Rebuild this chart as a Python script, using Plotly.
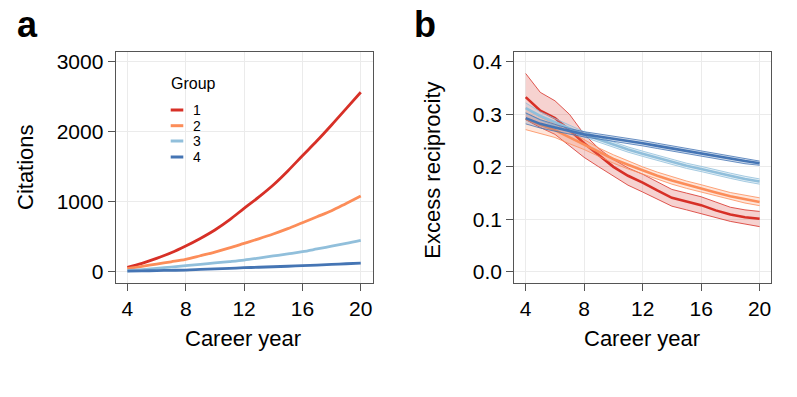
import plotly.graph_objects as go

W, H = 797, 397

years = list(range(4, 21))
groups = ['1', '2', '3', '4']
colors = ['#d73027', '#fc8d59', '#91bfdb', '#4575b4']
fills = ['rgba(215,48,39,0.22)', 'rgba(252,141,89,0.22)',
         'rgba(145,191,219,0.22)', 'rgba(69,117,180,0.22)']

# panel a: citations by career year
cit_1 = [63, 120, 190, 270, 367, 475, 596, 740, 905, 1065, 1239, 1440, 1657, 1870, 2096, 2330, 2563]
cit_2 = [43, 75, 110, 142, 177, 228, 281, 340, 405, 470, 539, 615, 700, 785, 871, 975, 1081]
cit_3 = [14, 30, 48, 67, 86, 105, 125, 145, 167, 195, 225, 255, 286, 325, 365, 405, 448]
cit_4 = [8, 12, 16, 20, 24, 32, 40, 48, 57, 64, 71, 78, 86, 95, 104, 114, 124]
citations = [cit_1, cit_2, cit_3, cit_4]

# panel b: excess reciprocity (mean, lower, upper)
rec_mean_1 = [0.333, 0.307, 0.293, 0.270, 0.245, 0.222, 0.200, 0.183, 0.170, 0.155, 0.141, 0.134, 0.127, 0.117, 0.109, 0.104, 0.101]
rec_lo_1 = [0.290, 0.275, 0.262, 0.240, 0.218, 0.200, 0.183, 0.165, 0.152, 0.138, 0.125, 0.118, 0.111, 0.103, 0.096, 0.091, 0.086]
rec_hi_1 = [0.378, 0.342, 0.326, 0.300, 0.262, 0.235, 0.214, 0.198, 0.186, 0.171, 0.157, 0.150, 0.143, 0.133, 0.123, 0.118, 0.115]

rec_mean_2 = [0.292, 0.280, 0.270, 0.256, 0.243, 0.228, 0.215, 0.204, 0.193, 0.183, 0.174, 0.166, 0.159, 0.151, 0.144, 0.138, 0.133]
rec_lo_2 = [0.271, 0.263, 0.256, 0.244, 0.233, 0.220, 0.207, 0.196, 0.186, 0.176, 0.167, 0.159, 0.152, 0.144, 0.137, 0.131, 0.126]
rec_hi_2 = [0.312, 0.295, 0.282, 0.266, 0.252, 0.236, 0.223, 0.211, 0.200, 0.190, 0.181, 0.173, 0.166, 0.158, 0.151, 0.146, 0.141]

rec_mean_3 = [0.312, 0.297, 0.285, 0.273, 0.262, 0.252, 0.242, 0.233, 0.225, 0.217, 0.209, 0.202, 0.196, 0.189, 0.183, 0.177, 0.172]
rec_lo_3 = [0.302, 0.289, 0.278, 0.267, 0.257, 0.247, 0.237, 0.228, 0.220, 0.212, 0.204, 0.197, 0.191, 0.184, 0.178, 0.172, 0.167]
rec_hi_3 = [0.322, 0.305, 0.292, 0.279, 0.267, 0.257, 0.247, 0.238, 0.230, 0.222, 0.214, 0.207, 0.201, 0.194, 0.188, 0.182, 0.177]

rec_mean_4 = [0.293, 0.282, 0.275, 0.268, 0.262, 0.258, 0.254, 0.250, 0.245, 0.240, 0.235, 0.230, 0.225, 0.221, 0.216, 0.211, 0.207]
rec_lo_4 = [0.282, 0.274, 0.268, 0.262, 0.257, 0.253, 0.249, 0.245, 0.240, 0.235, 0.230, 0.225, 0.220, 0.216, 0.211, 0.206, 0.203]
rec_hi_4 = [0.303, 0.290, 0.281, 0.273, 0.267, 0.263, 0.259, 0.255, 0.250, 0.245, 0.240, 0.235, 0.230, 0.226, 0.220, 0.215, 0.211]

rec_mean = [rec_mean_1, rec_mean_2, rec_mean_3, rec_mean_4]
rec_lo = [rec_lo_1, rec_lo_2, rec_lo_3, rec_lo_4]
rec_hi = [rec_hi_1, rec_hi_2, rec_hi_3, rec_hi_4]

x_ticks = [4, 8, 12, 16, 20]
cit_ticks = [0, 1000, 2000, 3000]
rec_ticks = [0.0, 0.1, 0.2, 0.3, 0.4]


def px_x(p):
    # window pixel -> paper fraction
    return p / W


def px_y(p):
    return 1 - p / H


fig = go.Figure()

for g, col, ys in zip(groups, colors, citations):
    fig.add_trace(go.Scatter(x=years, y=ys, mode='lines', name=g,
                             line=dict(color=col, width=2.8, shape='spline'),
                             xaxis='x', yaxis='y', showlegend=False))

for g, col, fc, m, lo, hi in zip(groups, colors, fills, rec_mean, rec_lo, rec_hi):
    fig.add_trace(go.Scatter(x=years, y=lo, mode='lines', line=dict(color=col, width=0.8),
                             xaxis='x2', yaxis='y2', showlegend=False))
    fig.add_trace(go.Scatter(x=years, y=hi, mode='lines', line=dict(color=col, width=0.8),
                             fill='tonexty', fillcolor=fc,
                             xaxis='x2', yaxis='y2', showlegend=False))
    fig.add_trace(go.Scatter(x=years, y=m, mode='lines', line=dict(color=col, width=2.6),
                             xaxis='x2', yaxis='y2', showlegend=False))

axis_style = dict(
    showline=True, mirror=True, linecolor='#555555', linewidth=1.3,
    ticks='outside', ticklen=7, tickwidth=1.2, tickcolor='#555555',
    showgrid=True, gridcolor='#ebebeb', gridwidth=1.3, zeroline=False,
    tickfont=dict(size=21, color='#000000'), automargin=False,
)

fig.update_layout(
    width=W, height=H,
    margin=dict(l=0, r=0, t=0, b=0),
    paper_bgcolor='white', plot_bgcolor='white',
    font=dict(family='Liberation Sans, Arial, sans-serif', color='#000000'),
    showlegend=False,
    xaxis=dict(domain=[px_x(115.7), px_x(373.3)], range=[3.2, 20.86],
               tickvals=x_ticks, anchor='y', **axis_style),
    yaxis=dict(domain=[px_y(282.7), px_y(51.7)], range=[-157, 3143],
               tickvals=cit_ticks, anchor='x', **axis_style),
    xaxis2=dict(domain=[px_x(514.3), px_x(771)], range=[3.22, 20.78],
                tickvals=x_ticks, anchor='y2', **axis_style),
    yaxis2=dict(domain=[px_y(282.7), px_y(51.7)], range=[-0.0209, 0.4196],
                tickvals=rec_ticks, tickformat='.1f', anchor='x2', **axis_style),
)

# axis titles
notes = [
    ('Career year', 243, 338, 0),
    ('Career year', 641.7, 338, 0),
    ('Citations', 25, 167, -90),
    ('Excess reciprocity', 431.7, 170, -90),
]
for txt, x, y, ang in notes:
    fig.add_annotation(text=txt, x=px_x(x), y=px_y(y), xref='paper', yref='paper',
                       xanchor='center', yanchor='middle', textangle=ang,
                       showarrow=False, font=dict(size=22, color='#000000'))

# panel letters
for txt, x, y in [('<b>a</b>', 27.5, 24), ('<b>b</b>', 425, 24)]:
    fig.add_annotation(text=txt, x=px_x(x), y=px_y(y), xref='paper', yref='paper',
                       xanchor='center', yanchor='middle', showarrow=False,
                       borderpad=0, font=dict(size=36, color='#000000'))

# legend for panel a
fig.add_annotation(text='Group', x=px_x(169), y=px_y(84), xref='paper', yref='paper',
                   xanchor='left', yanchor='middle', showarrow=False,
                   font=dict(size=16, color='#000000'))
item_y = [110, 125.7, 141, 157]
for g, col, yy in zip(groups, colors, item_y):
    fig.add_shape(type='line', xref='paper', yref='paper',
                  x0=px_x(170.7), x1=px_x(183.3), y0=px_y(yy), y1=px_y(yy),
                  line=dict(color=col, width=3))
    fig.add_annotation(text=g, x=px_x(191), y=px_y(yy), xref='paper', yref='paper',
                       xanchor='left', yanchor='middle', showarrow=False,
                       font=dict(size=14, color='#000000'))

# drop the default 8px page margin so the figure sits at the window corner
fig.write_html("out.html", config={'displayModeBar': False},
               post_script="document.body.style.margin = '0';")
